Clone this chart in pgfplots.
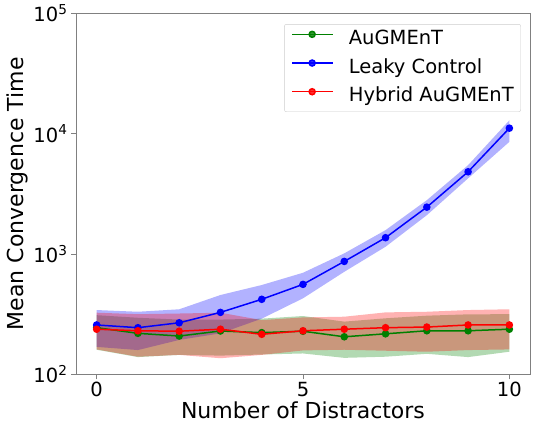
\documentclass[border=0pt]{standalone}
\usepackage{fontspec}
\setmainfont{DejaVu Sans}
\usepackage{pgfplots}
\pgfplotsset{compat=1.18}
\definecolor{mgreen}{rgb}{0,0.5,0}
\definecolor{mblue}{rgb}{0,0,1}
\definecolor{mred}{rgb}{1,0,0}
\begin{document}
\begin{tikzpicture}
\begin{axis}[
  at={(0,0)}, anchor=south west,
  scale only axis, width=454pt, height=361pt,
  ymode=log, log basis y=10,
  xmin=-0.5, xmax=10.5, ymin=100, ymax=100000,
  xtick={0,5,10},
  ytick={100,1000,10000,100000},
  yticklabels={10\textsuperscript{2},10\textsuperscript{3},10\textsuperscript{4},10\textsuperscript{5}},
  /pgf/number format/assume math mode=true,
  tick pos=left, tick align=outside,
  major tick length=5pt, minor tick length=2.8pt,
  axis line style={black!50},
  every tick/.style={black!50},
  tick label style={font=\fontsize{19.5}{22}\selectfont, black},
  xticklabel style={yshift=1pt},
  label style={font=\fontsize{22}{26}\selectfont},
  xlabel={Number of Distractors},
  ylabel={Mean Convergence Time},
  xlabel style={yshift=2pt},
  ylabel style={yshift=-1pt},
  legend style={at={(0.98,0.97)}, anchor=north east, draw=black!20, rounded corners=2pt,
    fill=white, fill opacity=0.8, text opacity=1,
    font=\fontsize{19.5}{22}\selectfont,
    nodes={inner sep=0pt, text height=14pt, text depth=4pt},
    row sep=10.7pt, inner xsep=7pt, inner ysep=6pt,
    /tikz/every odd column/.append style={column sep=15pt}},
  legend cell align=left,
  legend image code/.code={\draw[mark repeat=2,mark phase=2,#1] plot coordinates {(0pt,5pt)(20pt,5pt)(41pt,5pt)};},
]
% green band
\addplot[fill=mgreen, fill opacity=0.3, draw=none, forget plot] coordinates {(0,310)(1,295)(2,285)(3,285)(4,290)(5,305)(6,274)(7,292)(8,307)(9,315)(10,316)
 (10,154)(9,139)(8,148)(7,140)(6,137)(5,149)(4,146)(3,143)(2,145)(1,139)(0,160)} -- cycle;
% blue band
\addplot[fill=mblue, fill opacity=0.3, draw=none, forget plot] coordinates {(0,342)(1,331)(2,347)(3,456)(4,552)(5,698)(6,1012)(7,1578)(8,2800)(9,5470)(10,12900)
 (10,8550)(9,4250)(8,2100)(7,1148)(6,711)(5,428)(4,290)(3,219)(2,193)(1,159)(0,169)} -- cycle;
% red band
\addplot[fill=mred, fill opacity=0.3, draw=none, forget plot] coordinates {(0,325)(1,316)(2,320)(3,325)(4,282)(5,297)(6,301)(7,327)(8,331)(9,342)(10,347)
 (10,161)(9,159)(8,154)(7,157)(6,160)(5,158)(4,145)(3,136)(2,145)(1,140)(0,161)} -- cycle;
% lines
\addplot[mgreen, line width=1.5pt, mark=*, mark size=3pt] coordinates {(0,244)(1,219)(2,208)(3,229)(4,222)(5,228)(6,205)(7,217)(8,230)(9,230)(10,237)};
\addlegendentry{AuGMEnT}
\addplot[mblue, line width=1.5pt, mark=*, mark size=3pt] coordinates {(0,257)(1,244)(2,268)(3,327)(4,420)(5,559)(6,867)(7,1365)(8,2450)(9,4820)(10,11100)};
\addlegendentry{Leaky Control}
\addplot[mred, line width=1.5pt, mark=*, mark size=3pt] coordinates {(0,237)(1,230)(2,228)(3,237)(4,215)(5,230)(6,237)(7,244)(8,247)(9,257)(10,257)};
\addlegendentry{Hybrid AuGMEnT}
\end{axis}
\pgfresetboundingbox
\path (-76pt,-48.7pt) rectangle (461pt,374.3pt);
\end{tikzpicture}
\end{document}
